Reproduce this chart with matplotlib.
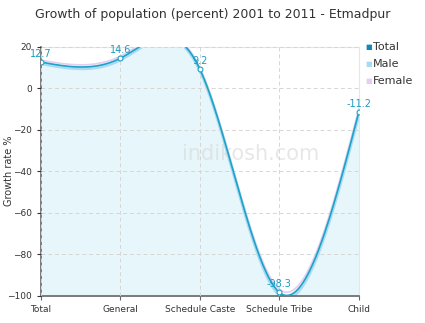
import matplotlib.pyplot as plt
import numpy as np

categories = ["Total", "General", "Schedule Caste", "Schedule Tribe", "Child"]
total = [12.7, 14.6, 9.2, -98.3, -11.2]
male = [12.0, 13.8, 8.6, -99.5, -12.5]
female = [13.6, 15.6, 9.9, -96.8, -9.8]


### natural cubic spline through the points
def spline(x, y, n=300):
    x = np.asarray(x, float)
    y = np.asarray(y, float)
    k = len(x)
    h = np.diff(x)
    A = np.zeros((k, k))
    b = np.zeros(k)
    A[0, 0] = 1
    A[-1, -1] = 1
    for i in range(1, k - 1):
        A[i, i-1] = h[i-1]
        A[i, i] = 2 * (h[i-1] + h[i])
        A[i, i+1] = h[i]
        b[i] = 6 * ((y[i+1] - y[i]) / h[i] - (y[i] - y[i-1]) / h[i-1])
    M = np.linalg.solve(A, b)
    xs = np.linspace(x[0], x[-1], n)
    ys = np.zeros(n)
    for j, t in enumerate(xs):
        i = min(np.searchsorted(x, t, side="right") - 1, k - 2)
        dx1 = x[i+1] - t
        dx0 = t - x[i]
        ys[j] = (M[i] * dx1**3 + M[i+1] * dx0**3) / (6 * h[i]) \
            + (y[i] / h[i] - M[i] * h[i] / 6) * dx1 \
            + (y[i+1] / h[i] - M[i+1] * h[i] / 6) * dx0
    return xs, ys


x = np.arange(len(categories))
fig = plt.figure(figsize=(4.25, 3.23), dpi=100)
ax = fig.add_axes([0.0965, 0.0836, 0.748, 0.771])

xs, ys = spline(x, total)
ax.fill_between(xs, ys, -100, color="#e6f6fb", zorder=1)

xm, ym = spline(x, male)
xf, yf = spline(x, female)
ax.plot(xf, yf, color="#e3cdf3", lw=1.2, zorder=2)
ax.plot(xm, ym, color="#a9daf3", lw=2.2, zorder=2)
ax.plot(xs, ys, color="#1da3c6", lw=1.2, zorder=3)
ax.plot(x, total, "o", ms=3.5, mfc="white", mec="#1da3c6", mew=0.8, zorder=4)

for xi, v in zip(x, total):
    ax.text(xi, v + 1.5, f"{v:g}", color="#1a9cc0", fontsize=7,
            ha="center", va="bottom", zorder=5)

ax.set_xlim(0, 4)
ax.set_ylim(-100, 20)
ax.set_xticks(x)
ax.set_xticklabels(categories, fontsize=6.5, color="#333333")
ax.set_yticks(np.arange(-100, 21, 20))
ax.tick_params(axis="y", labelsize=6.5, colors="#333333", length=3)
ax.tick_params(axis="x", length=3, colors="#666666", labelcolor="#333333")
ax.grid(color="#d6d6d6", ls=(0, (4, 3)), lw=0.7)
ax.set_axisbelow(False)
for s in ["top", "right"]:
    ax.spines[s].set_color("#e6e6e6")
for s in ["left", "bottom"]:
    ax.spines[s].set_color("#666666")
    ax.spines[s].set_linewidth(1.2)

fig.text(0.022, 0.47, "Growth rate %", rotation=90, fontsize=7,
         color="#333333", ha="center", va="center")

ax.text(0.66, 0.57, "indikosh.com", transform=ax.transAxes, fontsize=15,
        color="#d8d8d8", alpha=0.6, ha="center", va="center", zorder=2.5)

fig.text(0.5, 0.955, "Growth of population (percent) 2001 to 2011 - Etmadpur",
         ha="center", va="center", fontsize=9, color="#333333")

# legend
leg_cols = ["#1188bb", "#a9daf3", "#e3cdf3"]
for i, (name, c) in enumerate(zip(["Total", "Male", "Female"], leg_cols)):
    y = 0.855 - i * 0.053
    fig.text(0.86, y, "\u25a0", color=c, fontsize=5, va="center")
    fig.text(0.878, y, name, color="#333333", fontsize=8, va="center")

fig.savefig("out.png", dpi=100)
